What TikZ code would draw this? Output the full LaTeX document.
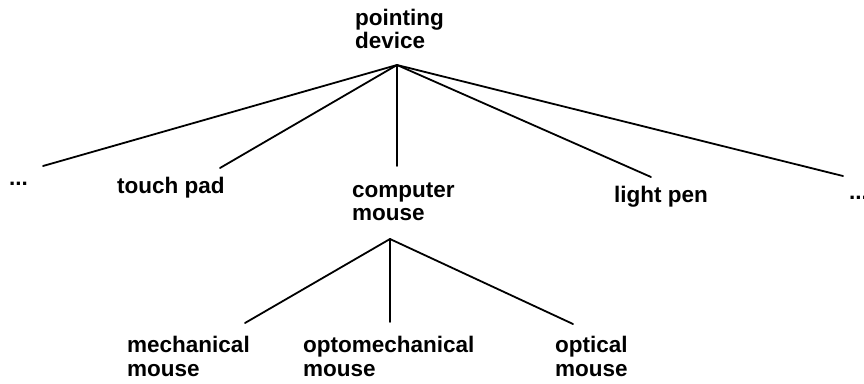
\documentclass[tikz,border=0pt]{standalone}
\usepackage{fontspec}
\setmainfont{Liberation Sans}
\begin{document}
\begin{tikzpicture}[x=1pt,y=-1pt,
  lbl/.style={font=\fontsize{22.5}{23}\selectfont\bfseries, inner sep=0pt, anchor=base west, align=left},
  edge/.style={line width=1.8pt, line cap=round}]
\useasboundingbox (0,0) rectangle (864,383);
% labels (base anchor = baseline of the last line)
\node[lbl, font=\fontsize{22.5}{21}\selectfont\bfseries] (pd) at (355,48) {pointing\\device};
\node[lbl] (dl) at (9,185) {...};
\node[lbl] (tp) at (117,193) {touch pad};
\node[lbl] (cm) at (352,220) {computer\\mouse};
\node[lbl] (lp) at (614,202) {light pen};
\node[lbl] (dr) at (849,199) {...};
\node[lbl, font=\fontsize{22.5}{24}\selectfont\bfseries] (mm) at (127,376) {mechanical\\mouse};
\node[lbl, font=\fontsize{22.5}{24}\selectfont\bfseries] (om) at (303,376) {optomechanical\\mouse};
\node[lbl, font=\fontsize{22.5}{24}\selectfont\bfseries] (opm) at (555,376) {optical\\mouse};
% connector points
\coordinate (top) at (397,65);
\coordinate (e1) at (43,166);
\coordinate (e2) at (220,168);
\coordinate (e3) at (397,166);
\coordinate (e4) at (651,177);
\coordinate (e5) at (843,176);
\coordinate (top2) at (390,239);
\coordinate (f1) at (245,323);
\coordinate (f2) at (390,322);
\coordinate (f3) at (573,324);
\foreach \e in {e1,e2,e3,e4,e5} \draw[edge] (top) -- (\e);
\foreach \f in {f1,f2,f3} \draw[edge] (top2) -- (\f);
\end{tikzpicture}
\end{document}
